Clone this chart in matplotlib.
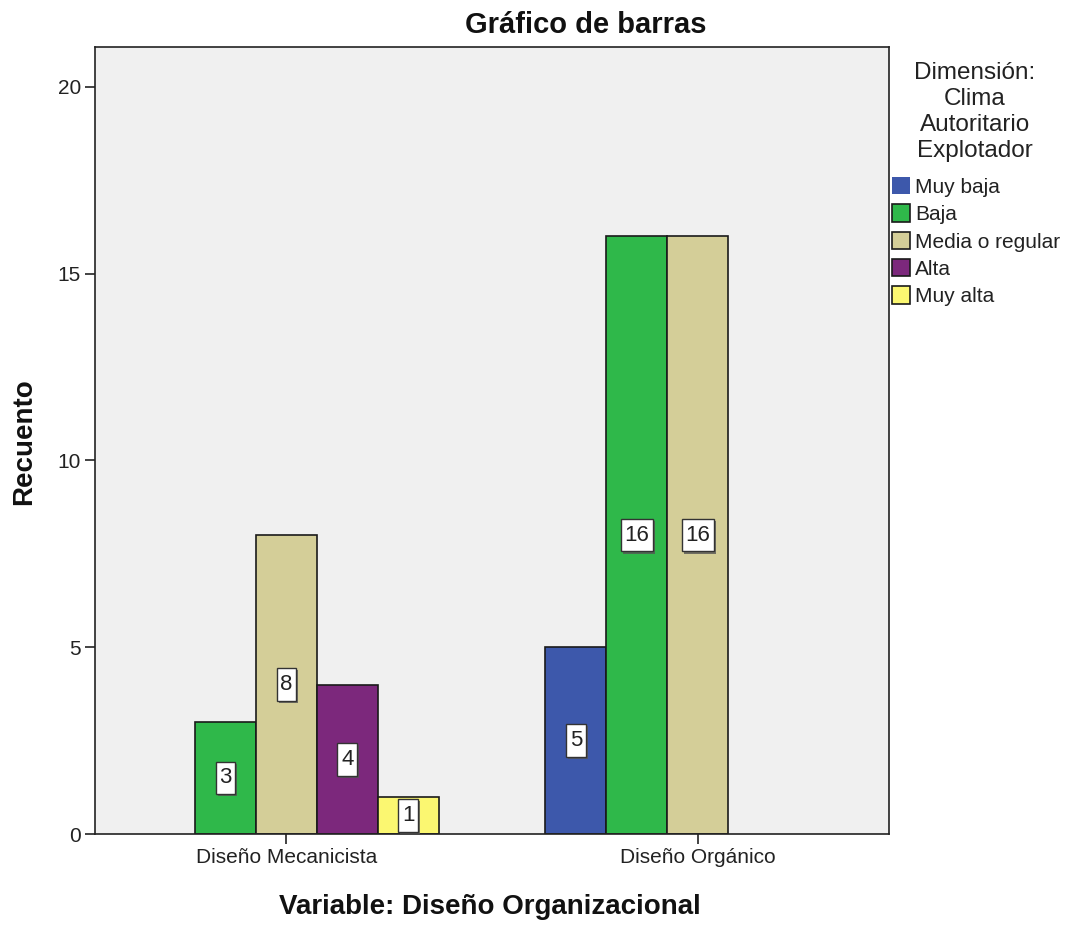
import matplotlib
matplotlib.use("Agg")
import matplotlib.pyplot as plt
import matplotlib.patheffects as pe
from matplotlib.path import Path
import numpy as np

categories = ["Diseño Mecanicista", "Diseño Orgánico"]
series_names = ["Muy baja", "Baja", "Media o regular", "Alta", "Muy alta"]
muy_baja = [0, 5]
baja = [3, 16]
media = [8, 16]
alta = [4, 0]
muy_alta = [1, 0]
series_values = [muy_baja, baja, media, alta, muy_alta]
colors = ["#3D58AB", "#2FB84A", "#D4CE98", "#7C287C", "#FBF771"]
yticks = [0, 5, 10, 15, 20]

plt.rcParams['font.family'] = ['Liberation Sans', 'DejaVu Sans']


def tall_box(x0, y0, width, height, mutation_size):
    px = 0.16 * mutation_size
    py = 0.26 * mutation_size
    x0, y0 = x0 - px, y0 - py
    x1, y1 = x0 + width + 2 * px, y0 + height + 2 * py
    return Path([(x0, y0), (x1, y0), (x1, y1), (x0, y1), (x0, y0)], closed=True)


fig = plt.figure(figsize=(10.65, 9.26), dpi=100)
ax = fig.add_axes([95/1065, 1-834/926, (889-95)/1065, (834-47)/926])
ax.set_facecolor("#F0F0F0")

x = np.arange(len(categories))
w = 0.148
handles = []
for i, (name, vals, c) in enumerate(zip(series_names, series_values, colors)):
    pos = x + (i - 2) * w
    bars = ax.bar(pos, vals, width=w, color=c, edgecolor="#1a1a1a", linewidth=1.2, label=name)
    handles.append(bars)
    for b, p, v in zip(bars, pos, vals):
        if v <= 0:
            b.set_linewidth(0)
            continue
        t = ax.text(p, v / 2, str(v), ha="center", va="center", fontsize=16, color="#222222",
                    bbox=dict(boxstyle=tall_box, fc="white", ec="#333333", lw=1.0),
                    zorder=5)
        t.get_bbox_patch().set_path_effects([
            pe.SimplePatchShadow(offset=(1.5, -1.5), shadow_rgbFace="#555555", alpha=0.8),
            pe.Normal()])

ax.set_xlim(-0.465, 1.465)
ax.set_ylim(0, 21.07)
ax.set_yticks(yticks)
ax.set_yticklabels([str(t) for t in yticks], fontsize=15, color="#222222")
ax.set_xticks(x)
ax.set_xticklabels(categories, fontsize=15, color="#222222")
ax.tick_params(axis="both", length=7, width=1.2, color="#222222", pad=3)
for s in ax.spines.values():
    s.set_color("#222222")
    s.set_linewidth(1.2)

fig.text(586/1065, 1-25/926, "Gráfico de barras", ha="center", va="center",
         fontsize=21, fontweight="bold", color="#111111")
fig.text(490/1065, 1-907/926, "Variable: Diseño Organizacional", ha="center", va="center",
         fontsize=20, fontweight="bold", color="#111111")
fig.text(24/1065, 1-442/926, "Recuento", ha="center", va="center", rotation=90,
         fontsize=20, fontweight="bold", color="#111111")

fig.text(975/1065, 1-112/926, "Dimensión:\nClima\nAutoritario\nExplotador", ha="center", va="center",
         fontsize=17.5, color="#222222", linespacing=1.22)

leg = fig.legend(handles=handles, labels=series_names, loc="upper left",
                 bbox_to_anchor=(892/1065, 1-177/926), frameon=False, fontsize=15,
                 handlelength=0.85, handleheight=0.9, handletextpad=0.25, labelspacing=0.36,
                 borderaxespad=0, borderpad=0)
for t in leg.get_texts():
    t.set_color("#222222")

fig.savefig("out.png", dpi=100, facecolor="white")
